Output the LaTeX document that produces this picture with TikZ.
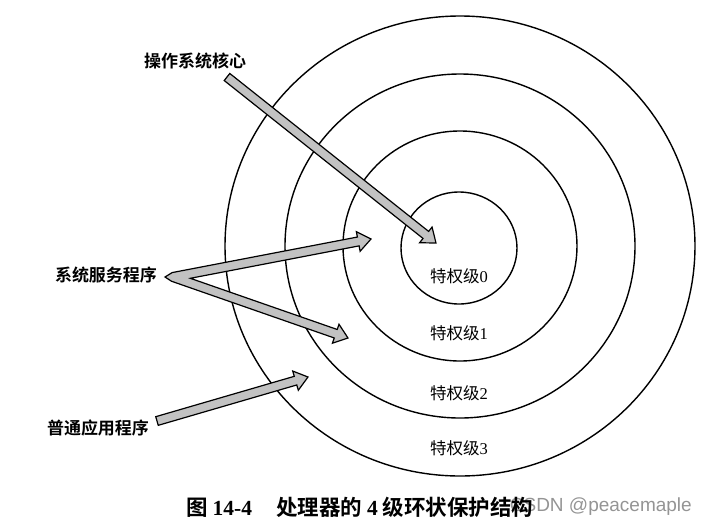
\documentclass[tikz,border=0pt]{standalone}
\usepackage{fontspec}
\setmainfont{Liberation Serif}
\newfontfamily\cjk[BoldFont={Noto Sans CJK SC Bold}]{Noto Sans CJK SC}
\newfontfamily\wmfont{Liberation Sans}
\usetikzlibrary{calc}
\newcommand\fatarrow[2]{%
  \coordinate (fhb) at ($(#2)!13pt!(#1)$);
  \filldraw[fat] ($(#1)!4.5pt!90:(#2)$) -- ($(fhb)!4.5pt!-90:(#1)$) -- ($(fhb)!10pt!-90:(#1)$) -- (#2)
     -- ($(fhb)!10pt!90:(#1)$) -- ($(fhb)!4.5pt!90:(#1)$) -- ($(#1)!4.5pt!-90:(#2)$) -- cycle;}
\begin{document}
\begin{tikzpicture}[x=1pt,y=-1pt,
  ring/.style={draw=black, line width=1.4pt},
  fat/.style={draw=black, line width=1.2pt, fill=black!24, line join=miter},
  lvl/.style={font=\fontsize{16.5}{16.5}\selectfont, inner sep=0pt},
  lab/.style={font=\cjk\bfseries\fontsize{17}{17}\selectfont, inner sep=0pt},
]
\useasboundingbox (0,0) rectangle (724,531);
\coordinate (C) at (460,246);
\draw[ring] (C) ellipse [x radius=235pt, y radius=230pt];
\draw[ring] (C) ellipse [x radius=175pt, y radius=172pt];
\draw[ring] (C) ellipse [x radius=117pt, y radius=115pt];
\draw[ring] (459,248) ellipse [x radius=58pt, y radius=56pt];

\node[lvl] (l0) at (459,276) {{\cjk 特权级}0};
\node[lvl] (l1) at (459,333) {{\cjk 特权级}1};
\node[lvl] (l2) at (459,393) {{\cjk 特权级}2};
\node[lvl] (l3) at (459,448) {{\cjk 特权级}3};

\node[lab] (kernel) at (195,61) {操作系统核心};
\node[lab] (svc) at (106,275) {系统服务程序};
\node[lab] (app) at (98,428) {普通应用程序};

% kernel arrow
\coordinate (k0) at (227,77);
\coordinate (k1) at (436,243);
\fatarrow{k0}{k1}

% application arrow
\coordinate (p0) at (157,421);
\coordinate (p1) at (308,377);
\fatarrow{p0}{p1}

% system service double arrow
\coordinate (V) at (173,277);
\coordinate (O) at (165,277);
\coordinate (U) at (371,239);
\coordinate (D) at (348,338);
\coordinate (Up) at ($(U)!13pt!(V)$);
\coordinate (Dp) at ($(D)!13pt!(V)$);
\coordinate (ub1) at ($(V)!4.5pt!-90:(U)$);
\coordinate (ub2) at ($(Up)!4.5pt!90:(V)$);
\coordinate (dt1) at ($(V)!4.5pt!90:(D)$);
\coordinate (dt2) at ($(Dp)!4.5pt!-90:(V)$);
\coordinate (I) at (intersection of ub1--ub2 and dt1--dt2);
\filldraw[fat] (O) -- ($(V)!4.5pt!90:(U)$) -- ($(Up)!4.5pt!-90:(V)$) -- ($(Up)!10pt!-90:(V)$) -- (U)
  -- ($(Up)!10pt!90:(V)$) -- (ub2) -- (I) -- (dt2) -- ($(Dp)!10pt!-90:(V)$) -- (D)
  -- ($(Dp)!10pt!90:(V)$) -- ($(Dp)!4.5pt!90:(V)$) -- ($(V)!4.5pt!-90:(D)$) -- cycle;

% caption and watermark
\node[anchor=east, inner sep=0pt, text=black!42, font=\wmfont\fontsize{19}{19}\selectfont] (wm) at (692,507) {CSDN @peacemaple};
\node[anchor=west, inner sep=0pt, font=\fontsize{21.5}{21.5}\selectfont] (cap) at (186,507)
  {{\cjk\bfseries 图}\hspace{5pt}{\bfseries 14-4}\hspace{24pt}{\cjk\bfseries 处理器的}\hspace{5pt}{\bfseries 4}\hspace{5pt}{\cjk\bfseries 级环状保护结构}};
\end{tikzpicture}
\end{document}
